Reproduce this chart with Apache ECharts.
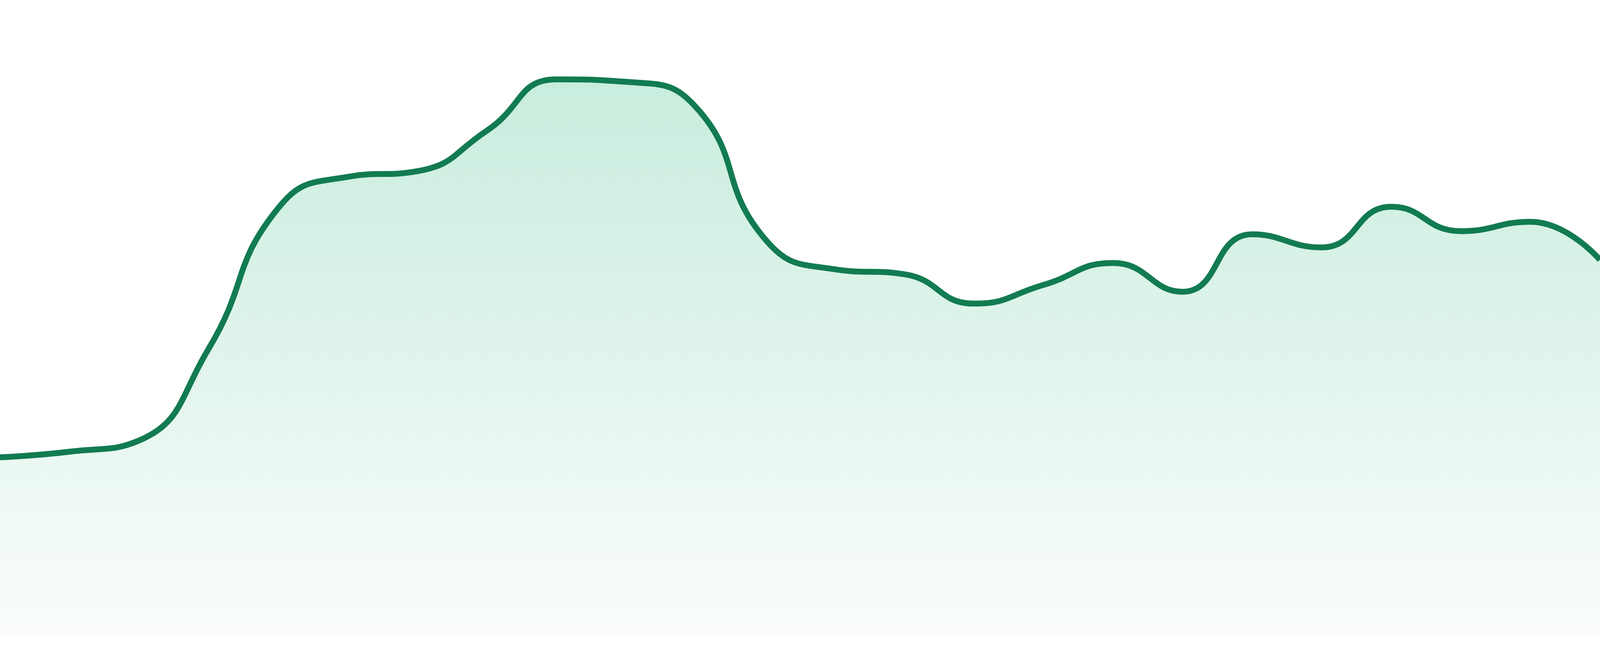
<!DOCTYPE html>
<html>
<head>
<meta charset="utf-8">
<script src="https://cdn.jsdelivr.net/npm/echarts/dist/echarts.min.js"></script>
<style>
html,body{margin:0;padding:0;background:#ffffff;overflow:hidden;width:100%;height:100%;}
#chart{width:100vw;height:100vh;}
</style>
</head>
<body>
<div id="chart"></div>
<script>
const categories = ['1','2','3','4','5','6','7','8','9','10','11','12','13','14','15','16','17','18','19','20','21','22','23','24'];
const values = [28.8, 29.7, 31.5, 46.2, 68.7, 73.7, 74.6, 81.1, 89.3, 88.9, 84.9, 63.7, 58.9, 58.1, 53.4, 56.4, 59.9, 55.3, 64.5, 62.4, 68.9, 65.0, 66.5, 60.4];
const yRange = [0, 100];

const el = document.getElementById('chart');
const chart = echarts.init(el, null, {renderer: 'canvas'});
const px = chart.getHeight() / 1680;
chart.setOption({
  animation: false,
  backgroundColor: '#ffffff',
  grid: {left: 0, right: 0, top: '1.905%', bottom: '2.857%'},
  xAxis: {type: 'category', data: categories, boundaryGap: false, show: false},
  yAxis: {type: 'value', min: yRange[0], max: yRange[1], show: false},
  series: [{
    type: 'line',
    data: values,
    smooth: true,
    symbol: 'none',
    lineStyle: {color: '#127b51', width: 15 * px},
    areaStyle: {
      color: new echarts.graphic.LinearGradient(0, 0, 0, 1, [
        {offset: 0, color: '#b0e5cf'},
        {offset: 1, color: '#f8fbfa'}
      ])
    }
  }]
});
</script>
</body>
</html>
